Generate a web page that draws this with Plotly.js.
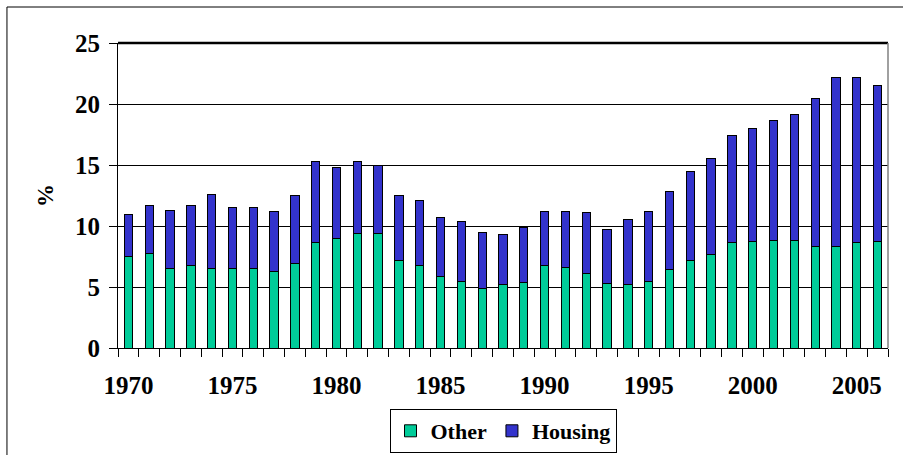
<!DOCTYPE html>
<html><head><meta charset="utf-8">
<script src="https://cdn.plot.ly/plotly-3.0.1.min.js"></script>
<style>html,body{margin:0;padding:0;background:#fff}#chart{width:903px;height:455px}</style>
</head><body><div id="chart"></div>
<script>
const years = [1970,1971,1972,1973,1974,1975,1976,1977,1978,1979,1980,1981,1982,1983,1984,1985,1986,1987,1988,1989,1990,1991,1992,1993,1994,1995,1996,1997,1998,1999,2000,2001,2002,2003,2004,2005,2006];
const other = [7.5,7.75,6.5,6.75,6.5,6.5,6.5,6.25,6.9,8.65,8.98,9.4,9.4,7.2,6.75,5.9,5.45,4.87,5.2,5.37,6.75,6.57,6.08,5.28,5.2,5.45,6.43,7.17,7.67,8.63,8.73,8.82,8.82,8.3,8.3,8.63,8.71];
const housing = [3.45,3.97,4.78,4.97,6.12,5.03,5.03,4.95,5.59,6.63,5.81,5.88,5.55,5.29,5.3,4.78,4.96,4.6,4.11,4.54,4.45,4.63,5.04,4.47,5.31,5.75,6.38,7.29,7.88,8.81,9.29,9.83,10.32,12.13,13.91,13.58,12.84];
const yTicks = [0,5,10,15,20,25];
const xLabels = [1970,1975,1980,1985,1990,1995,2000,2005];

const fam = 'Liberation Serif';
const f = (s) => ({family:fam, size:s, weight:'bold', color:'#000'});
const traces = [
  {type:'bar', name:'Other', x:years, y:other, width:0.4,
   marker:{color:'#00CC99', line:{color:'#000', width:1}}},
  {type:'bar', name:'Housing', x:years, y:housing, width:0.4,
   marker:{color:'#3333CC', line:{color:'#000', width:1}}}
];
const layout = {
  width:903, height:455, barmode:'stack',
  margin:{l:118, r:15, t:43, b:107, autoexpand:false},
  paper_bgcolor:'#fff', plot_bgcolor:'#fff',
  font:f(22),
  showlegend:true,
  legend:{orientation:'h', x:0.5, xanchor:'center', y:-0.2, yanchor:'top',
    bordercolor:'#000', borderwidth:1, bgcolor:'#fff',
    font:f(22), traceorder:'normal', itemwidth:30},
  xaxis:{range:[1969.5,2006.5], tickmode:'array', tickvals:xLabels,
    ticktext:xLabels.map(String), ticks:'', showgrid:false, zeroline:false, automargin:false,
    showline:true, linecolor:'#000', linewidth:1, ticklabelstandoff:15,
    tickfont:f(25),
    minor:{ticks:'outside', ticklen:8, tickcolor:'#000', tick0:1969.5, dtick:1, showgrid:false}},
  yaxis:{range:[0,25], tickmode:'array', tickvals:yTicks, ticks:'outside', ticklen:8,
    tickcolor:'#000', showline:true, linecolor:'#000', linewidth:1, automargin:false,
    showgrid:true, gridcolor:'#000', gridwidth:1, zeroline:false,
    tickfont:f(25), ticklabelstandoff:4,
    title:{text:'%', font:f(23), standoff:14}},
  shapes:[
    {type:'line', xref:'paper', yref:'paper', x0:0, x1:1, y0:1, y1:1, line:{color:'#000', width:2.5}},
    {type:'line', xref:'paper', yref:'paper', x0:1, x1:1, y0:0, y1:1, line:{color:'#808080', width:1.5}},
    {type:'rect', xref:'paper', yref:'paper', x0:-0.1442, x1:1.03, y0:-0.4, y1:1.118, line:{color:'#000', width:1}, layer:'below'}
  ]
};
Plotly.newPlot('chart', traces, layout, {displayModeBar:false, staticPlot:true});
</script></body></html>
